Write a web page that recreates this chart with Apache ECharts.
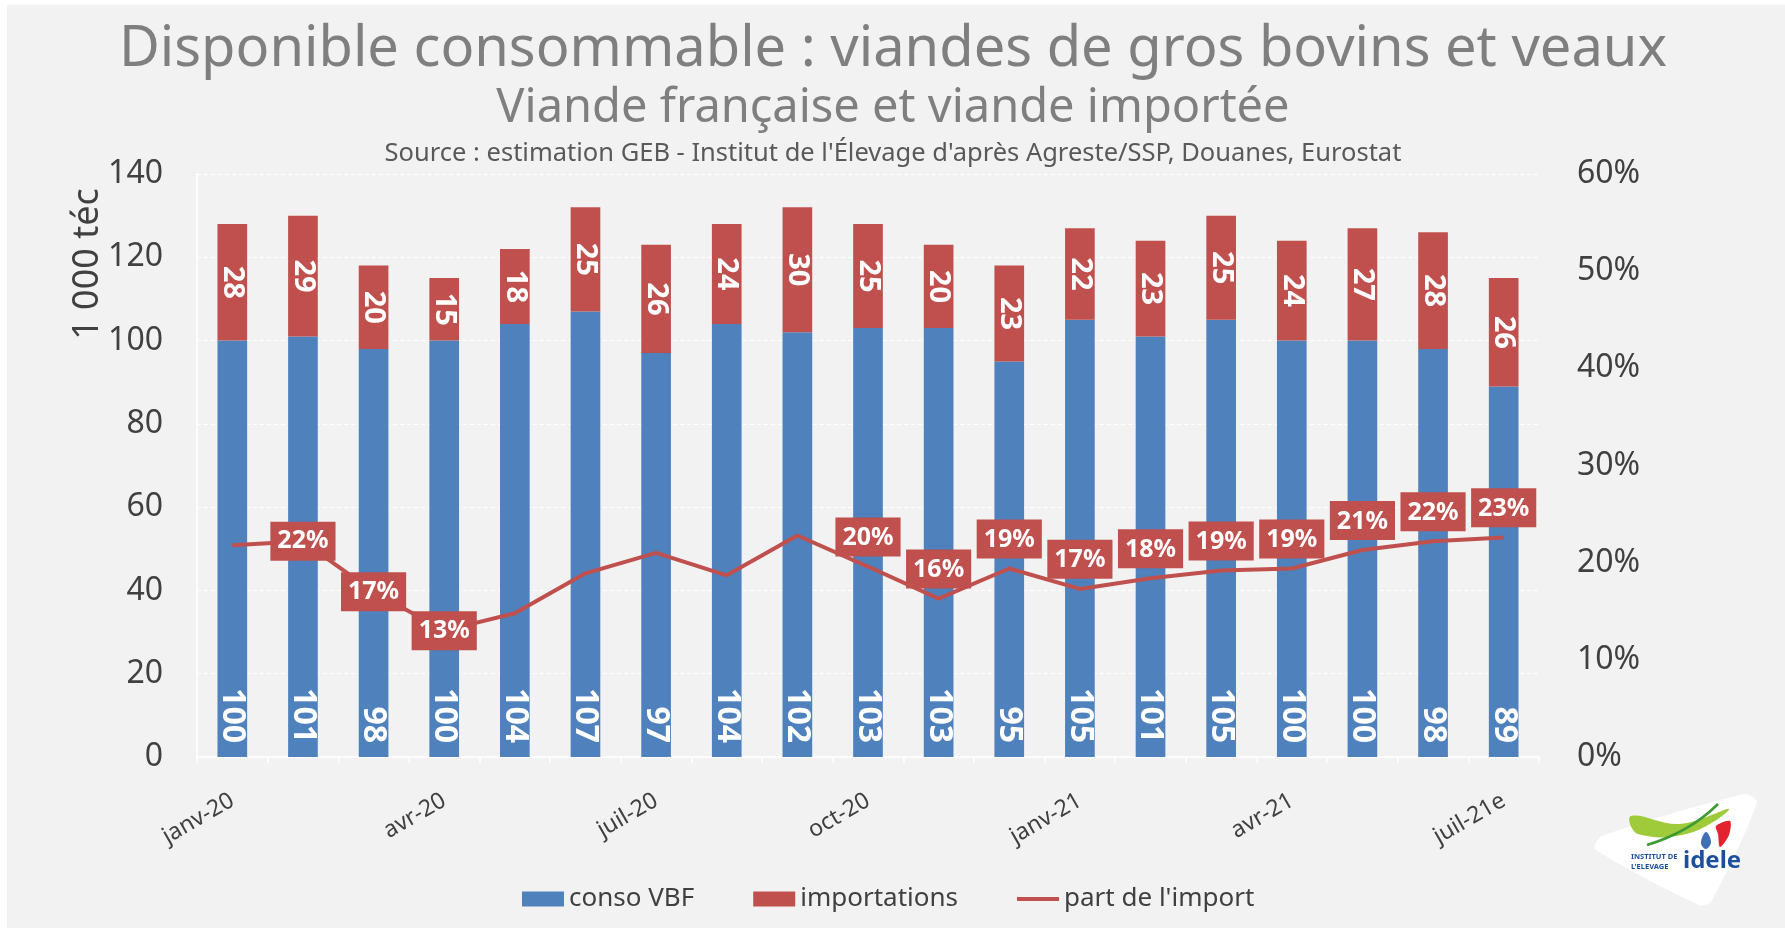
<!DOCTYPE html>
<html lang="fr">
<head>
<meta charset="utf-8">
<title>Disponible consommable : viandes de gros bovins et veaux</title>
<script src="https://cdn.jsdelivr.net/npm/echarts@6/dist/echarts.min.js"></script>
<style>
  html, body { margin: 0; padding: 0; background: #ffffff; }
  #bg { position: absolute; left: 7px; top: 5px; right: 0; bottom: 0; background: #f2f2f2; }
  #chart { position: absolute; left: 0; top: 0; width: 1785px; height: 928px; }
</style>
</head>
<body>
<div id="bg"></div>
<div id="chart"></div>
<script>
// Mois (juillet 2021 estimé)
const months = ['janv-20', 'févr-20', 'mars-20', 'avr-20', 'mai-20', 'juin-20', 'juil-20', 'août-20', 'sept-20',
  'oct-20', 'nov-20', 'déc-20', 'janv-21', 'févr-21', 'mars-21', 'avr-21', 'mai-21', 'juin-21', 'juil-21e'];

// Consommation de viande bovine française (1 000 téc)
const consoVBF = [100, 101, 98, 100, 104, 107, 97, 104, 102, 103, 103, 95, 105, 101, 105, 100, 100, 98, 89];

// Importations (1 000 téc)
const importations = [28, 29, 20, 15, 18, 25, 26, 24, 30, 25, 20, 23, 22, 23, 25, 24, 27, 28, 26];

// Part de l'import dans le disponible consommable (%)
const partImport = [21.8, 22.2, 17.0, 13.0, 14.8, 18.9, 21.0, 18.7, 22.8, 19.6, 16.3, 19.4, 17.3, 18.4, 19.2, 19.4, 21.3, 22.2, 22.6];

// Étiquettes affichées sur la courbe : 'inside' = centrée sur le point, 'top' = au-dessus, null = masquée
const partLabelPos = [null, 'inside', 'inside', 'inside', null, null, null, null, null,
  'top', 'top', 'top', 'top', 'top', 'top', 'top', 'top', 'top', 'top'];

const leftTicks = { min: 0, max: 140, interval: 20 };
const rightTicks = { min: 0, max: 60, interval: 10 };

const FONT = '"Noto Sans", "DejaVu Sans", sans-serif';
const BLUE = '#4F81BD';
const RED = '#C0504D';
const GRID_LINE = '#ffffff';

const chart = echarts.init(document.getElementById('chart'), null, { renderer: 'canvas' });

const partData = partImport.map((v, i) => {
  const pos = partLabelPos[i];
  if (!pos) return { value: v, label: { show: false } };
  return { value: v, label: { show: true, position: pos, distance: 10 } };
});

const option = {
  backgroundColor: 'transparent',
  animation: false,
  textStyle: { fontFamily: FONT },
  grid: { left: 197, right: 246, top: 174, bottom: 171, containLabel: false },
  legend: {
    left: 517,
    top: 881,
    itemWidth: 42,
    itemHeight: 15,
    itemGap: 59,
    textStyle: { fontSize: 26, color: '#404040', fontFamily: FONT },
    data: [
      { name: 'conso VBF', icon: 'rect' },
      { name: 'importations', icon: 'rect' },
      { name: "part de l'import", icon: 'path://M0,0 L42,0 L42,4 L0,4 Z' }
    ]
  },
  xAxis: {
    type: 'category',
    data: months,
    boundaryGap: true,
    axisLine: { show: true, lineStyle: { color: GRID_LINE, width: 1.5 } },
    axisTick: { show: true, interval: 0, length: 6, lineStyle: { color: GRID_LINE, width: 1.5 } },
    axisLabel: {
      interval: 2,
      rotate: 30,
      margin: 42,
      fontSize: 23,
      color: '#404040',
      fontFamily: FONT
    }
  },
  yAxis: [
    {
      type: 'value',
      min: leftTicks.min,
      max: leftTicks.max,
      interval: leftTicks.interval,
      axisLine: { show: true, lineStyle: { color: GRID_LINE, width: 1.5 } },
      axisTick: { show: false },
      splitLine: { show: true, lineStyle: { color: GRID_LINE, type: [4, 3], width: 1 } },
      axisLabel: { fontSize: 32, color: '#404040', margin: 34, fontFamily: FONT }
    },
    {
      type: 'value',
      min: rightTicks.min,
      max: rightTicks.max,
      interval: rightTicks.interval,
      position: 'right',
      axisLine: { show: false },
      axisTick: { show: false },
      splitLine: { show: false },
      axisLabel: { fontSize: 32, color: '#404040', margin: 38, fontFamily: FONT, formatter: '{value}%' }
    }
  ],
  series: [
    {
      name: 'conso VBF',
      type: 'bar',
      stack: 'total',
      barWidth: '42%',
      data: consoVBF,
      itemStyle: { color: BLUE },
      label: {
        show: true,
        position: 'insideBottom',
        distance: 14,
        rotate: -90,
        align: 'right',
        verticalAlign: 'middle',
        fontSize: 32,
        fontWeight: 'bold',
        color: '#ffffff',
        fontFamily: FONT
      },
      z: 2
    },
    {
      name: 'importations',
      type: 'bar',
      stack: 'total',
      barWidth: '42%',
      data: importations,
      itemStyle: { color: RED },
      label: {
        show: true,
        position: 'inside',
        rotate: -90,
        align: 'center',
        verticalAlign: 'middle',
        fontSize: 29,
        fontWeight: 'bold',
        color: '#ffffff',
        fontFamily: FONT
      },
      z: 2
    },
    {
      name: "part de l'import",
      type: 'line',
      yAxisIndex: 1,
      data: partData,
      symbol: 'circle',
      symbolSize: 0.1,
      showSymbol: true,
      lineStyle: { color: RED, width: 4 },
      itemStyle: { color: RED },
      label: {
        formatter: p => Math.round(p.value) + '%',
        backgroundColor: RED,
        color: '#ffffff',
        fontSize: 25,
        fontWeight: 'bold',
        fontFamily: FONT,
        padding: [8, 7, 6, 7]
      },
      z: 5
    }
  ],
  graphic: [
    // Titres
    {
      type: 'text', silent: true,
      style: { text: 'Disponible consommable : viandes de gros bovins et veaux', x: 893, y: 50,
        align: 'center', verticalAlign: 'middle', font: '56px ' + FONT, fill: '#7f7f7f' }
    },
    {
      type: 'text', silent: true,
      style: { text: 'Viande française et viande importée', x: 893, y: 109,
        align: 'center', verticalAlign: 'middle', font: '47px ' + FONT, fill: '#7f7f7f' }
    },
    {
      type: 'text', silent: true,
      style: { text: "Source : estimation GEB - Institut de l'Élevage d'après Agreste/SSP, Douanes, Eurostat", x: 893, y: 154,
        align: 'center', verticalAlign: 'middle', font: '25.5px ' + FONT, fill: '#595959' }
    },
    // Unité de l'axe de gauche
    {
      type: 'text', silent: true,
      x: 88, y: 264, rotation: Math.PI / 2,
      style: { text: '1 000 téc', x: 0, y: 0, align: 'center', verticalAlign: 'middle',
        font: '36px ' + FONT, fill: '#404040' }
    },
    // Logo Institut de l'Élevage
    {
      type: 'group', silent: true,
      children: [
        { type: 'polygon', shape: { points: [[1602, 836], [1744, 794], [1757, 802], [1711, 902], [1699, 905], [1595, 849]], smooth: 0.25 },
          style: { fill: '#ffffff' } },
        { type: 'polygon', shape: { points: [[1631, 816], [1680, 824], [1729, 809], [1690, 833], [1638, 834]], smooth: 0.4 },
          style: { fill: '#9fcb3b' } },
        { type: 'bezierCurve', shape: { x1: 1647, y1: 845, cpx1: 1690, cpy1: 832, x2: 1718, y2: 804 },
          style: { fill: null, stroke: '#3e9a35', lineWidth: 2.5 } },
        { type: 'polygon', shape: { points: [[1716, 826], [1730, 821], [1729, 835], [1720, 847], [1718, 834]], smooth: 0.3 },
          style: { fill: '#e3232d' } },
        { type: 'polygon', shape: { points: [[1706, 832], [1711, 842], [1706, 849], [1701, 843]], smooth: 0.4 },
          style: { fill: '#3f6fb5' } },
        { type: 'text', style: { text: 'INSTITUT DE', x: 1631, y: 857, align: 'left', verticalAlign: 'middle',
          font: 'bold 7.5px ' + FONT, fill: '#1d4f9f' } },
        { type: 'text', style: { text: "L'ELEVAGE", x: 1631, y: 867, align: 'left', verticalAlign: 'middle',
          font: 'bold 7.5px ' + FONT, fill: '#1d4f9f' } },
        { type: 'text', style: { text: 'idele', x: 1683, y: 861, align: 'left', verticalAlign: 'middle',
          font: 'bold 24px ' + FONT, fill: '#1d4f9f' } }
      ]
    }
  ]
};

chart.setOption(option);
</script>
</body>
</html>
